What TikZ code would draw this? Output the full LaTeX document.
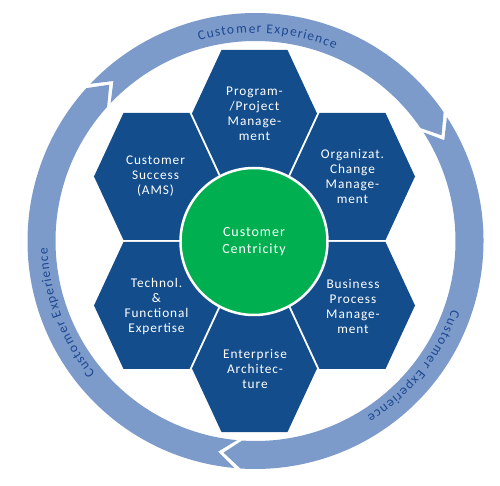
\documentclass[tikz,border=0pt]{standalone}
\usepackage{fontspec}
\setmainfont{Carlito}
\newfontfamily\hexfontfam{Carlito}[LetterSpace=7]
\newfontfamily\ringfontfam{Carlito}
\newcommand\ringfnt{\ringfontfam\fontsize{13.5}{15}\selectfont}
\usetikzlibrary{decorations.text}
\definecolor{hexblue}{RGB}{20,77,140}
\definecolor{ringblue}{RGB}{124,155,202}
\definecolor{ringtext}{RGB}{30,72,145}
\definecolor{centergreen}{RGB}{0,176,80}
\begin{document}
\begin{tikzpicture}[x=1pt,y=1pt,
  hexlabel/.style={text=white, align=center, font={\hexfontfam\fontsize{13.3}{15}\selectfont}},
  centerlabel/.style={circle, fill=centergreen, draw=white, line width=2.5pt, minimum size=147pt, inner sep=0pt, text=white, align=center, font={\hexfontfam\fontsize{14}{17}\selectfont}},
  hexshape/.style={fill=hexblue},
  ringarrow/.style={fill=ringblue},
  ringlabel/.style={decorate, decoration={text effects along path, text={Customer Experience}, text effects/.cd, text along path, fit text to path, characters={text=ringtext, font=\ringfnt, inner sep=0pt}}},
]
\useasboundingbox (-255.5,-245) rectangle (244.5,241);
% ring arrows (clockwise)
\def\ringOut{228}\def\ringIn{200}\def\ringMid{214}\def\arrHalf{2.4}\def\arrGap{1.5}
\foreach \jt/\jh in {135.5/32, 32/-96.2, 263.8/135.5}{
  \pgfmathsetmacro\tailA{\jt+\arrHalf-\arrGap}
  \pgfmathsetmacro\tailN{\jt-\arrHalf-\arrGap}
  \pgfmathsetmacro\headA{\jh+\arrHalf}
  \pgfmathsetmacro\headT{\jh-\arrHalf}
  \fill[ringarrow] (\tailA:\ringOut) arc[start angle=\tailA, end angle=\headA, radius=\ringOut]
    -- (\headT:\ringMid) -- (\headA:\ringIn)
    arc[start angle=\headA, end angle=\tailA, radius=\ringIn] -- (\tailN:\ringMid) -- cycle;
}
% ring texts
\path[ringlabel] (105.7:208) arc[start angle=105.7, end angle=67.5, radius=208];
\path[ringlabel] (-19.3:208) arc[start angle=-19.3, end angle=-57.6, radius=208];
\path[ringlabel] (219.6:208) arc[start angle=219.6, end angle=181.9, radius=208];
% hexagons
\foreach \cx/\cy in {-1/127.5, -99/64.5, 97/64.5, -99/-64.5, 97/-64.5, -1/-127.5}{
  \fill[hexshape] (\cx-62.5,\cy) -- (\cx-33,\cy+63.5) -- (\cx+33,\cy+63.5) -- (\cx+62.5,\cy)
    -- (\cx+33,\cy-63.5) -- (\cx-33,\cy-63.5) -- cycle;
}
\node[hexlabel] (pm) at (-1,127) {Program-\\/Project\\Manage-\\ment};
\node[hexlabel] (cs) at (-100,64.5) {Customer\\Success\\(AMS)};
\node[hexlabel] (oc) at (97,64.5) {Organizat.\\Change\\Manage-\\ment};
\node[hexlabel] (tf) at (-99,-65) {Technol.\\\&\\Functional\\Expertise};
\node[hexlabel] (bp) at (97.5,-65) {Business\\Process\\Manage-\\ment};
\node[hexlabel] (ea) at (-0.5,-128) {Enterprise\\Architec-\\ture};
\node[centerlabel] (cc) at (-1.5,-0.5) {Customer\\Centricity};
\end{tikzpicture}
\end{document}
